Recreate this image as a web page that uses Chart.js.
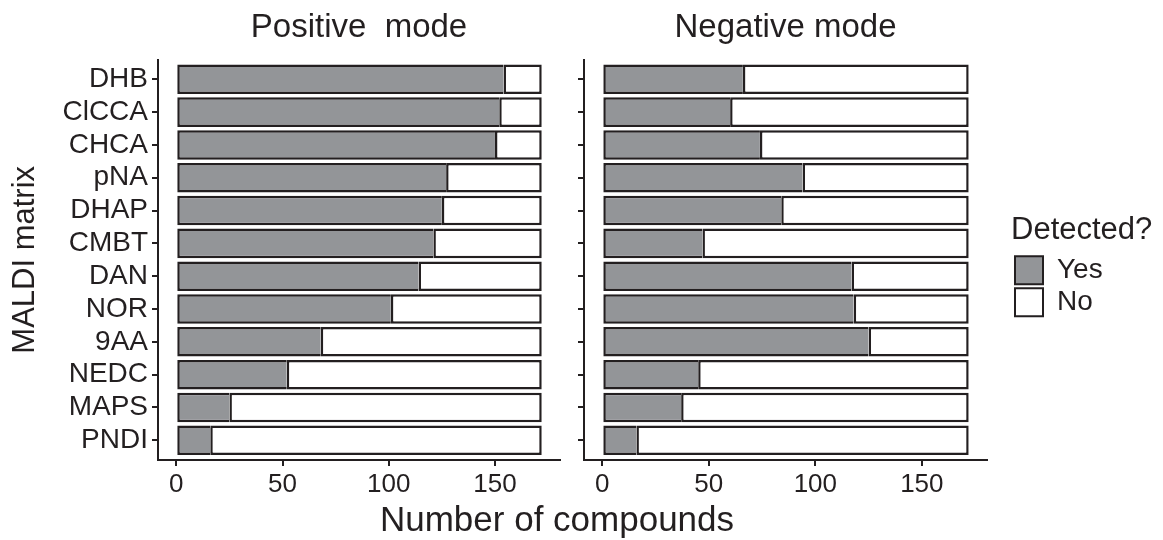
<!DOCTYPE html>
<html>
<head>
<meta charset="utf-8">
<script src="https://cdn.jsdelivr.net/npm/chart.js@4.4.1/dist/chart.umd.min.js"></script>
<style>
html,body{margin:0;padding:0;background:#fff;}
#wrap{position:relative;width:1163px;height:540px;overflow:hidden;background:#fff;}
canvas{position:absolute;}
#cPos{left:0;top:0;}
#cNeg{left:576px;top:0;}
#cXt{left:0;top:0;pointer-events:none;}
#cLeg{left:1011px;top:215px;pointer-events:none;}
</style>
</head>
<body>
<div id="wrap">
<canvas id="cPos" width="575" height="540"></canvas>
<canvas id="cNeg" width="420" height="540"></canvas>
<canvas id="cXt" width="1163" height="540"></canvas>
<canvas id="cLeg" width="152" height="250"></canvas>
</div>
<script>
// ---- data ----
const categories = ['DHB','ClCCA','CHCA','pNA','DHAP','CMBT','DAN','NOR','9AA','NEDC','MAPS','PNDI'];
const posYes = [154,152,150,127,125,121,114,101,68,52,25,16];
const posNo  = [18,20,22,45,47,51,58,71,104,120,147,156];
const negYes = [66,60,74,94,84,47,117,118,125,45,37,16];
const negNo  = [106,112,98,78,88,125,55,54,47,127,135,156];
const xTicks = [0,50,100,150];
const seriesNames = ['Yes','No'];
const panelTitles = ['Positive  mode','Negative mode'];
const yTitle = 'MALDI matrix';
const xTitle = 'Number of compounds';
const legendTitle = 'Detected?';

// ---- style ----
const INK = '#231f20';
const GRAY = '#939598';
const WHITE = '#ffffff';
const X_RANGE = [-8.6, 180.6];
const Y_RANGE = [-0.6, 11.6];
Chart.defaults.font.family = "'Liberation Sans', Arial, Helvetica, sans-serif";
Chart.defaults.color = INK;

function toPoints(arr){ return arr.map((v,i)=>({x:v, y:i})); }

function panel(canvasId, yes, no, title, showY, yWidth, padRight){
  const axisGrid = {display:true, offset:false, drawOnChartArea:false, drawTicks:true, tickLength:6, tickWidth:2, tickColor:INK, color:INK, lineWidth:2};
  return new Chart(document.getElementById(canvasId), {
    type:'bar',
    data:{
      datasets:[
        {label:seriesNames[0], data:toPoints(yes), backgroundColor:GRAY, borderColor:INK,
         borderWidth:{top:2.5,bottom:2.5,left:2.5,right:0}, borderSkipped:false,
         barPercentage:0.9, categoryPercentage:1},
        {label:seriesNames[1], data:toPoints(no), backgroundColor:WHITE, borderColor:INK,
         borderWidth:2.5, borderSkipped:false,
         barPercentage:0.9, categoryPercentage:1}
      ]
    },
    options:{
      indexAxis:'y',
      responsive:false,
      animation:false,
      events:[],
      layout:{padding:{left:0,right:padRight,top:0,bottom:0}},
      scales:{
        x:{type:'linear', stacked:true, offset:false, min:X_RANGE[0], max:X_RANGE[1],
           afterBuildTicks:s=>{ s.ticks = xTicks.map(v=>({value:v})); },
           afterFit:s=>{ s.height = 80; },
           grid:axisGrid,
           border:{display:true, color:INK, width:2},
           ticks:{autoSkip:false, maxRotation:0, minRotation:0, padding:3, color:INK, font:{size:26}}
        },
        y:{type:'linear', stacked:true, offset:false, reverse:true, min:Y_RANGE[0], max:Y_RANGE[1],
           afterBuildTicks:s=>{ s.ticks = categories.map((c,i)=>({value:i})); },
           afterFit:s=>{ s.width = yWidth; },
           grid:axisGrid,
           border:{display:true, color:INK, width:2},
           ticks:{display:showY, autoSkip:false, padding:4, color:INK, font:{size:28},
                  callback:v=>categories[v]},
           title:{display:showY, text:yTitle, color:INK, font:{size:31}, padding:{top:7,bottom:0}}
        }
      },
      plugins:{
        legend:{display:false},
        tooltip:{enabled:false},
        title:{display:true, text:title, fullSize:false, color:INK,
               font:{size:33, weight:'normal'}, padding:{top:8,bottom:12}}
      }
    }
  });
}

panel('cPos', posYes, posNo, panelTitles[0], true, 158, 15);
panel('cNeg', negYes, negNo, panelTitles[1], false, 8, 9);

// shared x-axis title
new Chart(document.getElementById('cXt'), {
  type:'bar',
  data:{labels:[], datasets:[]},
  options:{
    responsive:false, animation:false, events:[],
    layout:{padding:{left:0,right:49,top:0,bottom:-2}},
    scales:{x:{display:false}, y:{display:false}},
    plugins:{
      tooltip:{enabled:false},
      legend:{display:false},
      title:{display:true, text:xTitle, position:'bottom', color:INK,
             font:{size:35, weight:'normal'}, padding:{top:0,bottom:0}}
    }
  }
});

// legend
new Chart(document.getElementById('cLeg'), {
  type:'bar',
  data:{labels:[], datasets:[
    {label:seriesNames[0], data:[], backgroundColor:GRAY, borderColor:INK, borderWidth:2},
    {label:seriesNames[1], data:[], backgroundColor:WHITE, borderColor:INK, borderWidth:2}
  ]},
  options:{
    responsive:false, animation:false, events:[],
    layout:{padding:0},
    scales:{x:{display:false}, y:{display:false}},
    plugins:{
      tooltip:{enabled:false},
      legend:{position:'top', align:'start',
        labels:{boxWidth:28, boxHeight:28, padding:4, color:INK, font:{size:28}},
        title:{display:true, text:legendTitle, position:'start', color:INK, font:{size:31}, padding:0}}
    }
  }
});
</script>
</body>
</html>
